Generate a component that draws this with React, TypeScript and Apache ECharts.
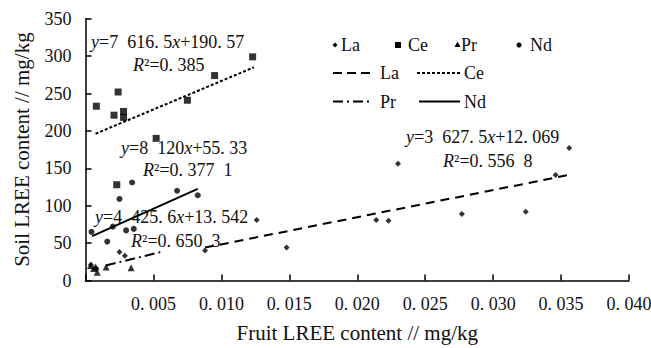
import React, { useEffect, useRef } from "react";
import * as echarts from "echarts";

const laX = [0.0004, 0.0008, 0.0025, 0.0029, 0.0088, 0.0126, 0.0148, 0.0214, 0.0223, 0.023, 0.0277, 0.0324, 0.0346, 0.0356];
const laY = [21, 16, 38, 33, 40, 81, 44, 81, 80, 156, 89, 92, 141, 177];
const ceX = [0.0008, 0.0021, 0.0023, 0.0024, 0.0028, 0.0028, 0.0052, 0.0075, 0.0095, 0.0123];
const ceY = [233, 221, 128, 252, 226, 218, 190, 241, 274, 299];
const prX = [0.00037, 0.0006, 0.00074, 0.00086, 0.00152, 0.00336];
const prY = [20, 16, 18, 11, 18, 17];
const ndX = [0.00044, 0.0016, 0.00201, 0.0025, 0.00299, 0.00343, 0.00355, 0.00674, 0.00826];
const ndY = [65, 52, 72, 109, 67, 131, 69, 120, 114];

// trend lines: slope, intercept, x range
const fitNames = ["La", "Ce", "Pr", "Nd"];
const fitSlope = [3627.5, 7616.5, 4425.6, 8120];
const fitIntercept = [12.069, 190.57, 13.542, 55.33];
const fitXMin = [0.0088, 0.00074, 0.0015, 0.00049];
const fitXMax = [0.0356, 0.0124, 0.0056, 0.00826];

const FONT = "'Liberation Serif', 'DejaVu Serif', serif";
const zip = (xs: number[], ys: number[]) => xs.map((x, i) => [x, ys[i]]);

export default function App() {
  const ref = useRef<HTMLDivElement>(null);
  useEffect(() => {
    document.body.style.margin = "0";
    const chart = echarts.init(ref.current!, null, { renderer: "svg" });
    const dashes: any[] = [[9, 6], [3, 2], [10, 4, 2, 4], "solid"];
    const fitSeries = fitNames.map((n, i) => ({
      type: "line",
      name: n + " fit",
      symbol: "none",
      silent: true,
      data: [
        [fitXMin[i], fitSlope[i] * fitXMin[i] + fitIntercept[i]],
        [fitXMax[i], fitSlope[i] * fitXMax[i] + fitIntercept[i]],
      ],
      lineStyle: { color: "#000", width: 2, type: dashes[i] },
    }));
    const txt = (x: number, y: number, text: string) => ({
      type: "text",
      x,
      y,
      style: {
        text,
        fill: "#111",
        font: `18px ${FONT}`,
        fontFamily: FONT,
        fontSize: 18,
        verticalAlign: "middle",
        rich: { i: { fontStyle: "italic", fontFamily: FONT, fontSize: 18, fill: "#111" } },
      },
    });
    const lineG = (x1: number, x2: number, y: number, dash: any) => ({
      type: "line",
      shape: { x1, y1: y, x2, y2: y },
      style: { stroke: "#000", lineWidth: 2, lineDash: dash },
    });
    chart.setOption({
      animation: false,
      grid: { left: 85.5, right: 22, top: 18.7, bottom: 67.5, containLabel: false, outerBoundsMode: "none" },
      xAxis: {
        type: "value",
        min: 0,
        max: 0.04,
        interval: 0.005,
        name: "Fruit LREE content // mg/kg",
        nameLocation: "middle",
        nameGap: 42,
        nameTextStyle: { color: "#111", fontFamily: FONT, fontSize: 21 },
        axisLine: { lineStyle: { color: "#000", width: 1.5 } },
        axisTick: { inside: true, length: 6, lineStyle: { color: "#000", width: 1.5 } },
        splitLine: { show: false },
        axisLabel: {
          color: "#111",
          fontFamily: FONT,
          fontSize: 18,
          margin: 14,
          formatter: (v: number) => (v === 0 ? "" : v.toFixed(3).replace(".", ". ")),
        },
      },
      yAxis: {
        type: "value",
        min: 0,
        max: 350,
        interval: 50,
        name: "Soil LREE content // mg/kg",
        nameLocation: "middle",
        nameGap: 53,
        nameTextStyle: { color: "#111", fontFamily: FONT, fontSize: 21 },
        axisLine: { show: true, lineStyle: { color: "#000", width: 1.5 } },
        axisTick: { show: true, inside: true, length: 6, lineStyle: { color: "#000", width: 1.5 } },
        splitLine: { show: false },
        axisLabel: { color: "#111", fontFamily: FONT, fontSize: 18, margin: 14 },
      },
      series: [
        { type: "scatter", name: "La", symbol: "diamond", symbolSize: 6, itemStyle: { color: "#000" }, data: zip(laX, laY) },
        { type: "scatter", name: "Ce", symbol: "rect", symbolSize: 7, itemStyle: { color: "#000" }, data: zip(ceX, ceY) },
        { type: "scatter", name: "Pr", symbol: "triangle", symbolSize: 7, itemStyle: { color: "#000" }, data: zip(prX, prY) },
        { type: "scatter", name: "Nd", symbol: "circle", symbolSize: 6, itemStyle: { color: "#000" }, data: zip(ndX, ndY) },
        ...fitSeries,
      ],
      graphic: [
        txt(91, 42, "{i|y}=7  616. 5{i|x}+190. 57"),
        txt(133, 65, "{i|R}²=0. 385"),
        txt(121, 148, "{i|y}=8  120{i|x}+55. 33"),
        txt(143, 170, "{i|R}²=0. 377  1"),
        txt(95, 217, "{i|y}=4  425. 6{i|x}+13. 542"),
        txt(131, 241, "{i|R}²=0. 650  3"),
        txt(406, 137, "{i|y}=3  627. 5{i|x}+12. 069"),
        txt(443, 161, "{i|R}²=0. 556  8"),
        // legend
        { type: "polygon", shape: { points: [[335, 42.5], [337.5, 45], [335, 47.5], [332.5, 45]] }, style: { fill: "#000" } },
        txt(341, 45, "La"),
        { type: "rect", shape: { x: 395, y: 42, width: 6, height: 6 }, style: { fill: "#000" } },
        txt(408, 45, "Ce"),
        { type: "polygon", shape: { points: [[457.5, 41.5], [460.5, 47], [454.5, 47]] }, style: { fill: "#000" } },
        txt(461, 45, "Pr"),
        { type: "circle", shape: { cx: 519, cy: 45, r: 2.5 }, style: { fill: "#000" } },
        txt(530, 45, "Nd"),
        lineG(333, 373, 73, [9, 5]),
        txt(380, 73, "La"),
        lineG(417, 460, 73, [3, 2]),
        txt(464, 73, "Ce"),
        lineG(333, 370, 101.5, [10, 4, 2, 4]),
        txt(380, 101.5, "Pr"),
        lineG(419, 460, 101.5, null),
        txt(464, 101.5, "Nd"),
      ],
    });
    return () => chart.dispose();
  }, []);
  return <div ref={ref} style={{ width: 651, height: 348 }} />;
}
